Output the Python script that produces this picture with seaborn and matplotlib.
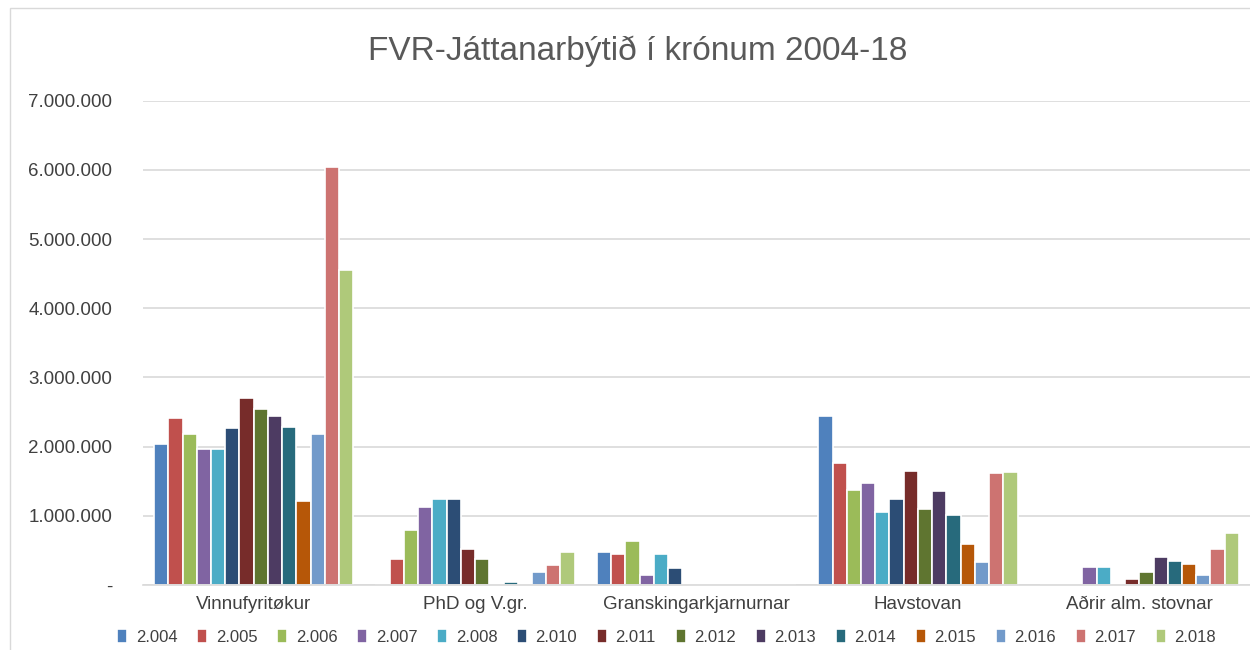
import pandas as pd
import matplotlib.pyplot as plt
import matplotlib.ticker as mticker
from matplotlib.patches import Rectangle
import seaborn as sns

categories = ["Vinnufyritøkur", "PhD og V.gr.", "Granskingarkjarnurnar",
              "Havstovan", "Aðrir alm. stovnar"]
years = ["2.004", "2.005", "2.006", "2.007", "2.008", "2.010", "2.011",
         "2.012", "2.013", "2.014", "2.015", "2.016", "2.017", "2.018"]

# krónur per category, one list per year
values = {
    "2.004": [2035000, 0, 477000, 2450000, 0],
    "2.005": [2415000, 370000, 444000, 1765000, 0],
    "2.006": [2180000, 795000, 636000, 1374000, 0],
    "2.007": [1967000, 1130000, 140000, 1470000, 256000],
    "2.008": [1967000, 1240000, 453000, 1056000, 256000],
    "2.010": [2266000, 1240000, 240000, 1240000, 0],
    "2.011": [2710000, 516000, 0, 1650000, 92000],
    "2.012": [2550000, 370000, 0, 1095000, 193000],
    "2.013": [2450000, 0, 0, 1355000, 410000],
    "2.014": [2290000, 40000, 0, 1010000, 343000],
    "2.015": [1215000, 0, 0, 593000, 300000],
    "2.016": [2180000, 190000, 0, 337000, 145000],
    "2.017": [6045000, 290000, 0, 1615000, 516000],
    "2.018": [4556000, 477000, 0, 1630000, 750000],
}

colors = ["#4F81BD", "#C0504D", "#9BBB59", "#8064A2", "#4BACC6", "#2C4D75",
          "#772C2A", "#5F7530", "#4D3B62", "#276A7C", "#B65708", "#729ACA",
          "#CD7371", "#AFC97A"]

rows = []
for y in years:
    for c, v in zip(categories, values[y]):
        rows.append([c, y, v])
df = pd.DataFrame(rows, columns=["Category", "Year", "Value"])

sns.set_style("white")
plt.rcParams["font.family"] = ["Liberation Sans", "DejaVu Sans"]

fig = plt.figure(figsize=(12.5, 6.5), dpi=100)
ax = fig.add_axes([0.1144, 0.1, 0.8856, 0.745])

sns.barplot(data=df, x="Category", y="Value", hue="Year", order=categories,
            hue_order=years, palette=colors, width=0.9, edgecolor="white",
            linewidth=1.2, ax=ax, saturation=1)

ax.set_ylim(0, 7000000)
ax.set_xlim(-0.5, 4.5)
ax.yaxis.set_major_locator(mticker.MultipleLocator(1000000))


def fmt(v, pos):
    if v == 0:
        return "-"
    return f"{int(v):,}".replace(",", ".")


ax.yaxis.set_major_formatter(mticker.FuncFormatter(fmt))
ax.grid(axis="y", color="#D9D9D9", linewidth=1.2)
ax.set_axisbelow(True)
for side in ["top", "right", "left"]:
    ax.spines[side].set_visible(False)
ax.spines["bottom"].set_color("#D9D9D9")
ax.spines["bottom"].set_linewidth(1.2)
ax.tick_params(axis="both", length=0, colors="#404040", labelsize=13.5)
ax.tick_params(axis="y", pad=22)
ax.tick_params(axis="x", pad=8)
ax.set_xlabel("")
ax.set_ylabel("")

fig.suptitle("FVR-Játtanarbýtið í krónum 2004-18", x=0.51, y=0.945,
             fontsize=24, color="#595959")

handles, labels = ax.get_legend_handles_labels()
ax.legend(handles, labels, loc="center", bbox_to_anchor=(0.473, -0.108),
          ncol=14, frameon=False, fontsize=12, handlelength=0.6,
          handleheight=0.9, handletextpad=0.5, columnspacing=1.2,
          labelcolor="#404040")

# chart frame
fig.patches.append(Rectangle((0.008, -0.1), 1.2, 1.088, transform=fig.transFigure,
                             fill=False, edgecolor="#D9D9D9", linewidth=1))

fig.savefig("out.png", dpi=100)
